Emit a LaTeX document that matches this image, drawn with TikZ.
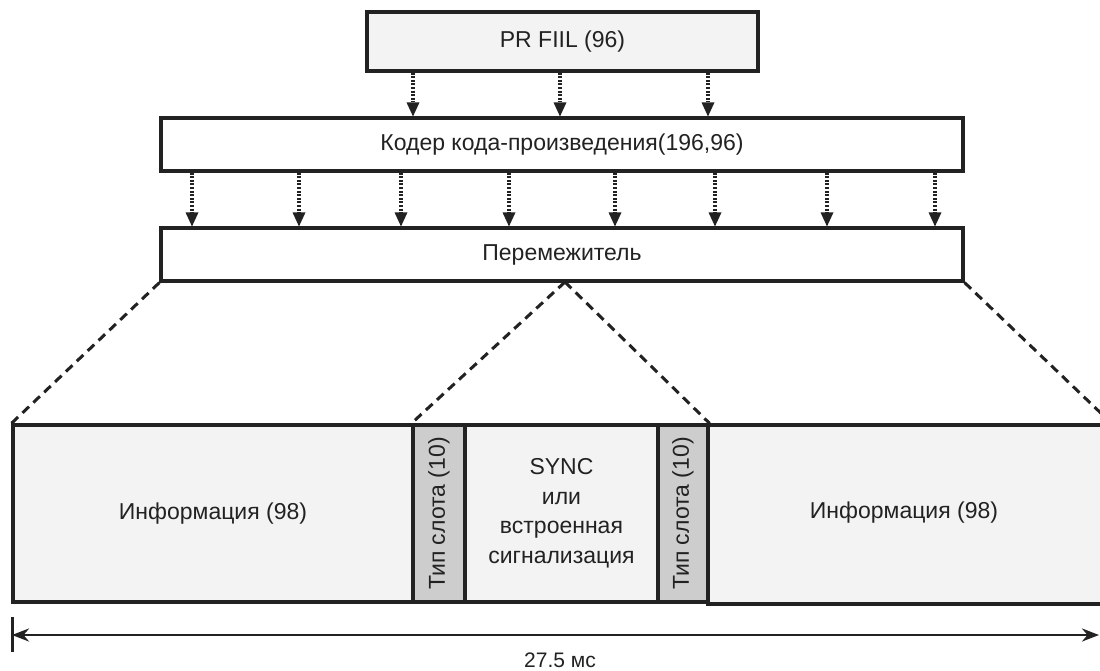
\documentclass[tikz,border=0pt]{standalone}
\usepackage{fontspec}
\setmainfont{Liberation Sans}
\usetikzlibrary{arrows.meta}
\definecolor{boxgray}{HTML}{F3F3F3}
\definecolor{slotgray}{HTML}{CDCDCD}
\definecolor{ink}{HTML}{222222}
\begin{document}
\begin{tikzpicture}[x=1pt,y=-1pt,
  blk/.style={draw=ink, line width=3.2pt, rectangle, inner sep=0pt, text=ink,
     font=\fontsize{23}{27}\selectfont},
  flow/.style={draw=ink, line width=3.5pt, dash pattern=on 2pt off 1.6pt,
     -{Triangle[length=14pt,width=13pt,line width=0pt]}},
  zoomline/.style={draw=ink, line width=3pt, dash pattern=on 9pt off 6pt},
  dim/.style={draw=ink, line width=2.8pt,
     {Stealth[length=17pt,width=13pt]}-{Stealth[length=17pt,width=13pt]}}]
\useasboundingbox (0,0) rectangle (1100,670);
\clip (0,0) rectangle (1100,670);
\fill[white] (0,0) rectangle (1100,670);

\node[blk, fill=boxgray, minimum width=391pt, minimum height=59pt] (pr) at (562.5,41.5) {PR FIIL (96)};
\node[blk, fill=white, minimum width=802pt, minimum height=53pt] (coder) at (562,144.5) {Кодер кода-произведения(196,96)};
\node[blk, fill=white, minimum width=802pt, minimum height=53pt] (inter) at (562,254.5) {Перемежитель};

\node[blk, fill=boxgray, minimum width=400pt, minimum height=177pt] (infoL) at (213,513.5) {Информация (98)};
\node[blk, fill=slotgray, minimum width=52pt, minimum height=177pt] (slot1) at (439,513.5) {};
\node[blk, fill=boxgray, minimum width=193pt, minimum height=177pt, align=center,
      font=\fontsize{23}{29.5}\selectfont] (sync) at (561.5,513.5) {SYNC\\или\\встроенная\\сигнализация};
\node[blk, fill=slotgray, minimum width=50pt, minimum height=177pt] (slot2) at (683,513.5) {};
\node[blk, fill=boxgray, minimum width=402pt, minimum height=179pt] (infoR) at (909,514.5) {};
\node[text=ink, font=\fontsize{23}{27}\selectfont] (infoRt) at (904,513) {Информация (98)};
\node[text=ink, rotate=90, font=\fontsize{23}{27}\selectfont] (s1t) at (slot1.center) {Тип слота (10)};
\node[text=ink, rotate=90, font=\fontsize{23}{27}\selectfont] (s2t) at (slot2.center) {Тип слота (10)};

\foreach \x [count=\i] in {413,560,708}{
  \coordinate (a\i) at (\x,0);
  \draw[flow] (pr.south -| a\i) -- (coder.north -| a\i);
}
\foreach \x [count=\i] in {192,299,401,509,615,715,827,935}{
  \coordinate (b\i) at (\x,0);
  \draw[flow] (coder.south -| b\i) -- (inter.north -| b\i);
}

\coordinate (apex) at (565,282);
\draw[zoomline] (inter.south west) -- (infoL.north west);
\draw[zoomline] (apex) -- (slot1.north west);
\draw[zoomline] (apex) -- (slot2.north east);
\draw[zoomline] (inter.south east) -- (infoR.north east);

\coordinate (dl) at (12,635);
\coordinate (dr) at (1099,635);
\draw[draw=ink, line width=3pt] ([yshift=18pt]dl) -- ([yshift=-17pt]dl);
\draw[dim] (dl) -- (dr);
\node[text=ink, font=\fontsize{21}{25}\selectfont] (dimlabel) at (560,660) {27.5 мс};
\end{tikzpicture}
\end{document}
